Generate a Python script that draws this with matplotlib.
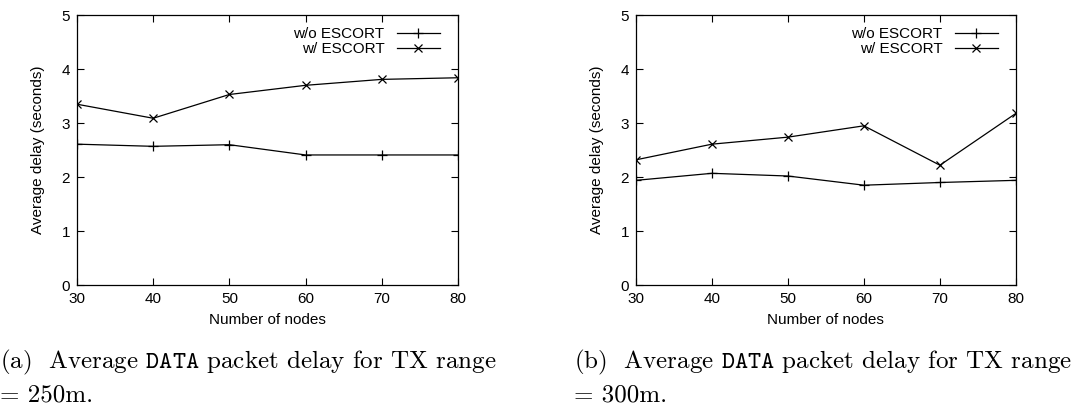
import matplotlib
matplotlib.use('Agg')
import matplotlib.pyplot as plt

nodes = [30, 40, 50, 60, 70, 80]

# TX range = 250m
wo_250 = [2.61, 2.57, 2.60, 2.41, 2.41, 2.41]
w_250 = [3.35, 3.09, 3.53, 3.70, 3.81, 3.84]

# TX range = 300m
wo_300 = [1.94, 2.07, 2.02, 1.85, 1.90, 1.94]
w_300 = [2.32, 2.61, 2.74, 2.95, 2.22, 3.18]

captions = [r"(a)  Average $\mathtt{DATA}$ packet delay for TX range",
            r"(b)  Average $\mathtt{DATA}$ packet delay for TX range"]
captions2 = ["= 250m.", "= 300m."]

plt.rcParams['font.family'] = ['Liberation Sans', 'DejaVu Sans']
plt.rcParams['mathtext.fontset'] = 'cm'

fig = plt.figure(figsize=(10.75, 4.09), dpi=100)
ax1 = fig.add_axes([0.0716, 0.303, 0.3544, 0.66])
ax2 = fig.add_axes([0.5916, 0.303, 0.3534, 0.66])

for ax, wo, w in [(ax1, wo_250, w_250), (ax2, wo_300, w_300)]:
    ax.plot(nodes, wo, color='black', lw=0.9, marker='+', ms=7, mew=0.9,
            label='w/o ESCORT')
    ax.plot(nodes, w, color='black', lw=0.9, marker='x', ms=6, mew=0.9,
            label='w/ ESCORT')
    ax.set_xlim(30, 80)
    ax.set_ylim(0, 5)
    ax.set_xticks(nodes)
    ax.set_yticks([0, 1, 2, 3, 4, 5])
    ax.tick_params(direction='in', top=True, right=True, length=5,
                   labelsize=11, colors='black', pad=5)
    for s in ax.spines.values():
        s.set_linewidth(0.9)
    ax.set_xlabel('Number of nodes', fontsize=11, labelpad=5)
    ax.set_ylabel('Average delay (seconds)', fontsize=11, labelpad=12)
    ax.legend(loc='upper right', frameon=False, markerfirst=False,
              fontsize=11, handlelength=2.8, labelspacing=0.05,
              borderaxespad=0.3, bbox_to_anchor=(0.98, 0.995))

xs = [0.0, 0.534]
for i in range(2):
    fig.text(xs[i], 0.113, captions[i], fontsize=18, family='cmr10',
             va='center', ha='left')
    fig.text(xs[i], 0.034, captions2[i], fontsize=18, family='cmr10',
             va='center', ha='left')

fig.savefig('out.png', dpi=100)
